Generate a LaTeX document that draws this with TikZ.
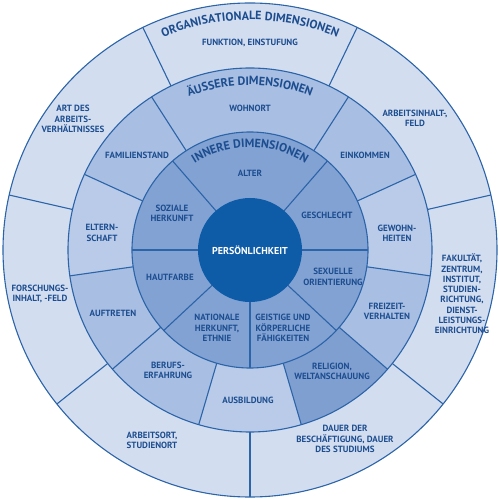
\documentclass[tikz,border=0pt]{standalone}
\usepackage{fontspec}
\setsansfont{PT Sans}
\usetikzlibrary{decorations.text}

\definecolor{orgfill}{HTML}{D3DDF0}
\definecolor{midfill}{HTML}{A8BEE2}
\definecolor{midlight}{HTML}{B9CBE9}
\definecolor{middark}{HTML}{809FD1}
\definecolor{innfill}{HTML}{82A2D3}
\definecolor{corefill}{HTML}{0E5CA8}
\definecolor{lineblue}{HTML}{2B64A8}
\definecolor{txtblue}{HTML}{1C4D8F}

\begin{document}
\begin{tikzpicture}[x=1pt, y=1pt,
  lbl/.style={align=center, inner sep=0pt, text=txtblue,
    font=\sffamily\bfseries\fontsize{9}{10.3}\selectfont},
  sep/.style={draw=lineblue, line width=1.1pt},
  core/.style={circle, fill=corefill, minimum size=104pt, inner sep=0pt,
    text=white, font=\sffamily\bfseries\fontsize{10}{12}\selectfont},
  ttl/.style={decorate, decoration={text along path, text align=center,
    text={|\sffamily\bfseries\fontsize{12}{14}\selectfont\color{txtblue}|#1}}}
]
\useasboundingbox (-250,-250) rectangle (250,250);

\fill[orgfill] (0,0) circle[radius=247pt];
\foreach \a/\b/\c in {57.27/122.73/midfill, 122.73/155.45/midfill, 155.45/188.18/midlight,
    188.18/220.9/midfill, 220.9/253.64/midfill, 253.64/286.36/midlight,
    286.36/319.09/middark, 319.09/351.82/midfill, 351.82/384.55/midlight, 24.55/57.27/midfill}
  \fill[\c] (\a:118pt) arc[start angle=\a, end angle=\b, radius=118pt]
    -- (\b:182pt) arc[start angle=\b, end angle=\a, radius=182pt] -- cycle;
\fill[innfill] (0,0) circle[radius=118pt];

\foreach \r in {247,182,118}
  \draw[sep] (0,0) circle[radius=\r pt];
\foreach \a in {270,321.43,12.86,64.29,115.71,167.14,218.57}
  \draw[sep] (\a:182pt) -- (\a:247pt);
\foreach \a in {57.27,122.73,155.45,188.18,220.9,253.64,286.36,319.09,351.82,24.55}
  \draw[sep] (\a:118pt) -- (\a:182pt);
\foreach \a in {49,131,180,223,270,317,0}
  \draw[sep] (\a:50pt) -- (\a:118pt);

\node[core] (person) at (0,0) {PERSÖNLICHKEIT};

\path[ttl=ORGANISATIONALE DIMENSIONEN] (150:230pt) arc[start angle=150, end angle=30, radius=230pt];
\path[ttl=ÄUSSERE DIMENSIONEN] (150:165pt) arc[start angle=150, end angle=30, radius=165pt];
\path[ttl=INNERE DIMENSIONEN] (150:103pt) arc[start angle=150, end angle=30, radius=103pt];

\node[lbl] (funktion) at (0,207) {FUNKTION, EINSTUFUNG};
\node[lbl] (inhalt) at (165,132) {ARBEITSINHALT-,\\FELD};
\node[lbl] (fakultaet) at (212,-44) {FAKULTÄT,\\ZENTRUM,\\INSTITUT,\\STUDIEN-\\RICHTUNG,\\DIENST-\\LEISTUNGS-\\EINRICHTUNG};
\node[lbl] (dauer) at (95,-189) {DAUER DER\\BESCHÄFTIGUNG, DAUER\\DES STUDIUMS};
\node[lbl] (arbeitsort) at (-98,-190) {ARBEITSORT,\\STUDIENORT};
\node[lbl] (forschung) at (-210,-44) {FORSCHUNGS-\\INHALT, -FELD};
\node[lbl] (artdes) at (-177,131) {ART DES\\ARBEITS-\\VERHÄLTNISSES};

\node[lbl] (wohnort) at (0,142) {WOHNORT};
\node[lbl] (einkommen) at (115,95) {EINKOMMEN};
\node[lbl] (gewohnheit) at (147,17) {GEWOHN-\\HEITEN};
\node[lbl] (freizeit) at (137,-61) {FREIZEIT-\\VERHALTEN};
\node[lbl] (religion) at (82,-121) {RELIGION,\\WELTANSCHAUUNG};
\node[lbl] (ausbildung) at (-2,-150) {AUSBILDUNG};
\node[lbl] (beruf) at (-82,-120) {BERUFS-\\ERFAHRUNG};
\node[lbl] (auftreten) at (-137,-63) {AUFTRETEN};
\node[lbl] (eltern) at (-148,17) {ELTERN-\\SCHAFT};
\node[lbl] (familie) at (-113,95) {FAMILIENSTAND};

\node[lbl] (alter) at (0,77) {ALTER};
\node[lbl] (geschlecht) at (77,35) {GESCHLECHT};
\node[lbl] (sexuell) at (83,-27) {SEXUELLE\\ORIENTIERUNG};
\node[lbl] (geistig) at (33,-78) {GEISTIGE UND\\KÖRPERLICHE\\FÄHIGKEITEN};
\node[lbl] (national) at (-33,-78) {NATIONALE\\HERKUNFT,\\ETHNIE};
\node[lbl] (hautfarbe) at (-80,-27) {HAUTFARBE};
\node[lbl] (sozial) at (-78,37) {SOZIALE\\HERKUNFT};
\end{tikzpicture}
\end{document}
